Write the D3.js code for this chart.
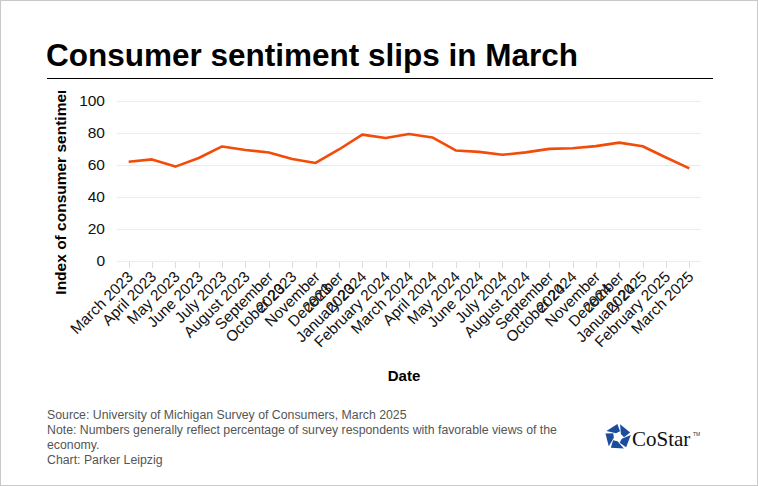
<!DOCTYPE html>
<html><head><meta charset="utf-8">
<script src="https://cdn.jsdelivr.net/npm/d3@7"></script>
<style>
body{margin:0;background:#fff;}
svg{display:block;font-family:"Liberation Sans",Arial,sans-serif;}
</style></head>
<body><svg id="c" width="758" height="486"></svg>
<script>
const months = ["March 2023","April 2023","May 2023","June 2023","July 2023","August 2023","September 2023","October 2023","November 2023","December 2023","January 2024","February 2024","March 2024","April 2024","May 2024","June 2024","July 2024","August 2024","September 2024","October 2024","November 2024","December 2024","January 2025","February 2025","March 2025"];
const sentiment = [62.0,63.5,59.0,64.4,71.6,69.4,67.8,63.8,61.3,69.7,79.0,76.9,79.4,77.2,69.1,68.2,66.4,67.9,70.1,70.5,71.8,74.0,71.7,64.7,57.9];
const yTicks = [0,20,40,60,80,100];
const title = "Consumer sentiment slips in March";
const footer = ["Source: University of Michigan Survey of Consumers, March 2025","Note: Numbers generally reflect percentage of survey respondents with favorable views of the","economy.","Chart: Parker Leipzig"];

const svg = d3.select("#c");
svg.append("rect").attr("x",0.5).attr("y",0.5).attr("width",757).attr("height",485).attr("fill","#fff").attr("stroke","#c8c8c8");

svg.append("text").attr("x",46).attr("y",66).attr("font-size",31.5).attr("font-weight","bold").attr("fill","#000").text(title);
svg.append("line").attr("x1",47).attr("x2",713).attr("y1",78.5).attr("y2",78.5).attr("stroke","#000").attr("stroke-width",1);

const x = d3.scalePoint().domain(months).range([117,701]).padding(0.5);
const y = d3.scaleLinear().domain([0,100]).range([261,101]);

// grid
svg.append("g").selectAll("line").data(yTicks).join("line")
  .attr("x1",117).attr("x2",701).attr("y1",d=>Math.round(y(d))+0.5).attr("y2",d=>Math.round(y(d))+0.5)
  .attr("stroke","#ececec").attr("stroke-width",1);
svg.append("g").selectAll("text").data(yTicks).join("text")
  .attr("x",105).attr("y",d=>y(d)).attr("dy","0.35em").attr("text-anchor","end")
  .attr("font-size",15.5).attr("fill","#111").text(d=>d);

// x ticks
svg.append("g").selectAll("line").data(months).join("line")
  .attr("x1",d=>Math.round(x(d))+0.5).attr("x2",d=>Math.round(x(d))+0.5).attr("y1",262).attr("y2",268)
  .attr("stroke","#dcdcdc");
const labels = svg.append("g").selectAll("g").data(months).join("g")
  .attr("transform",d=>`translate(${x(d)+1.5},${274}) rotate(-45)`);
labels.each(function(d){
  const g = d3.select(this);
  const t = g.append("text").attr("text-anchor","end").attr("font-size",15.3).attr("fill","#111").attr("dy","0.35em").text(d);
  if (t.node().getComputedTextLength() > 100) {
    const parts = d.split(" ");
    t.text(null);
    t.append("tspan").attr("x",0).attr("dy","0.35em").text(parts[0]);
    t.append("tspan").attr("x",0).attr("dy","1.1em").text(parts[1]);
  }
});

// line
svg.append("path").datum(months.map((m,i)=>[m,sentiment[i]]))
  .attr("fill","none").attr("stroke","#f24b0a").attr("stroke-width",2.6).attr("stroke-linejoin","round")
  .attr("d",d3.line().x(d=>x(d[0])).y(d=>y(d[1])));

// axis titles
svg.append("clipPath").attr("id","yc").append("rect").attr("x",30).attr("y",91).attr("width",60).attr("height",300);
svg.append("g").attr("clip-path","url(#yc)").append("text")
  .attr("transform","translate(66,187) rotate(-90)").attr("text-anchor","middle")
  .attr("font-size",15.5).attr("font-weight","bold").attr("fill","#000").text("Index of consumer sentiment");
svg.append("text").attr("x",404).attr("y",381).attr("text-anchor","middle").attr("font-size",15).attr("font-weight","bold").attr("fill","#000").text("Date");

// footer
svg.append("g").selectAll("text").data(footer).join("text")
  .attr("x",47).attr("y",(d,i)=>419+i*15).attr("font-size",12.3).attr("fill","#555").text(d=>d);

// logo
const logo = svg.append("g").attr("transform","translate(618,437)");
for (let k=0;k<5;k++){
  const a0 = (-90 + k*72) * Math.PI/180;
  const R=13, r=6;
  const p = (ang,rad)=>[rad*Math.cos(ang), rad*Math.sin(ang)];
  const gap = 0.16;
  const pts = [p(a0+gap,R), p(a0+72*Math.PI/180-gap*0.3,R), p(a0+72*Math.PI/180+0.35,r), p(a0+gap+0.6,r*0.7)];
  logo.append("polygon").attr("points",pts.map(q=>q.join(",")).join(" ")).attr("fill","#1c4c9c");
}
svg.append("text").attr("x",632).attr("y",446).attr("font-family","'Liberation Serif','Times New Roman',serif").attr("font-size",21).attr("fill","#111").text("CoStar");
svg.append("text").attr("x",693).attr("y",436).attr("font-size",5).attr("fill","#333").text("TM");
</script></body></html>
